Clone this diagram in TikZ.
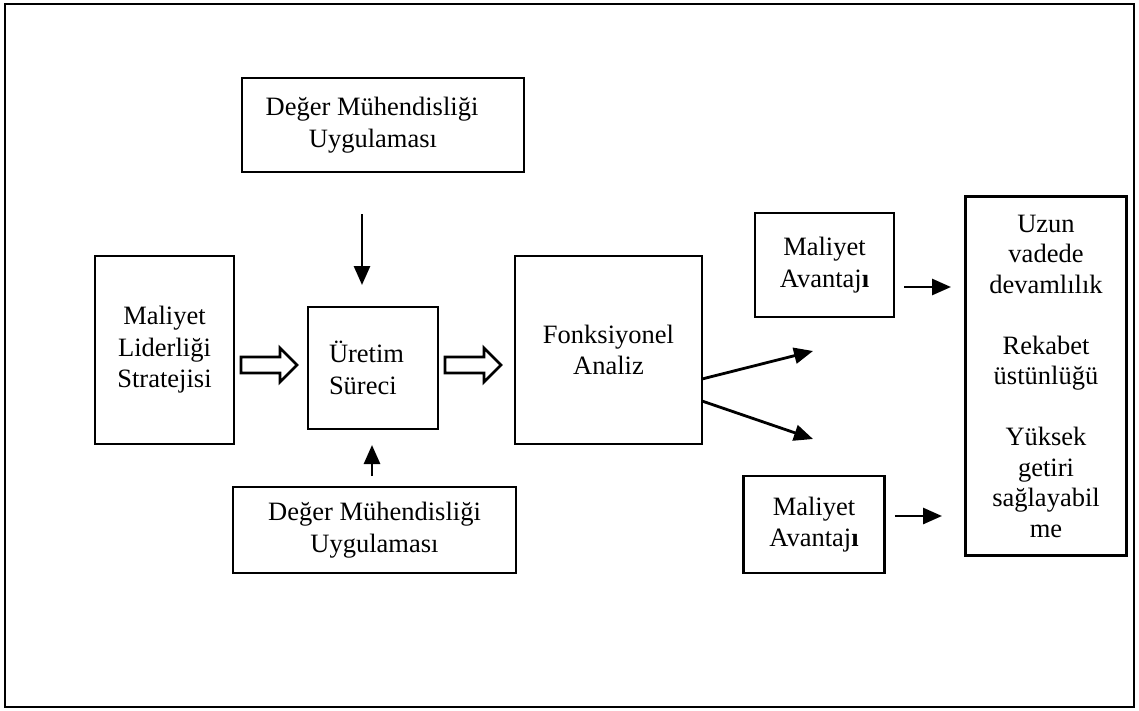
\documentclass[tikz,border=0pt]{standalone}
\usepackage{fontspec}
\setmainfont{Liberation Serif}
\usetikzlibrary{arrows.meta,calc}
\begin{document}
\begin{tikzpicture}[x=1pt,y=-1pt,
  box/.style={draw,line width=2.8pt,outer sep=0pt,inner sep=0pt,align=center,
              font=\fontsize{26.5}{31.5}\selectfont},
  arr/.style={line width=2.8pt,-{Triangle[length=19pt,width=16pt]}},
  hollow/.style={draw,line width=2.8pt,line join=miter,fill=white}]
\useasboundingbox (0,0) rectangle (1139,710);
% outer frame
\draw[line width=2.8pt] (5,4) rectangle (1134,707);

% boxes
\node[box,minimum width=282pt,minimum height=94pt] (dmuTop) at (383,125)
  {\hspace*{-22pt}Değer Mühendisliği\\\hspace*{-20pt}Uygulaması};
\node[box,minimum width=139pt,minimum height=188pt] (lead) at (164.5,350)
  {Maliyet\\Liderliği\\Stratejisi};
\node[box,minimum width=130pt,minimum height=122pt,text width=88pt,align=left] (proc) at (373,368)
  {Üretim\\Süreci};
\node[box,minimum width=187pt,minimum height=188pt] (func) at (608.5,350)
  {Fonksiyonel\\Analiz};
\node[box,minimum width=283pt,minimum height=86pt] (dmuBot) at (374.5,530)
  {Değer Mühendisliği\\Uygulaması};
\node[box,minimum width=139pt,minimum height=104pt] (advTop) at (824.5,265)
  {Maliyet\\Avantaj\textbf{ı}};
\node[box,minimum width=140.5pt,minimum height=97pt] (advBot) at (814,524.5)
  {Maliyet\\Avantaj\textbf{ı}};
\node[box,minimum width=161pt,minimum height=359pt,font=\fontsize{26.5}{30.5}\selectfont] (res) at (1046,376)
  {Uzun\\vadede\\devamlılık\\[30.5pt]Rekabet\\üstünlüğü\\[30.5pt]Yüksek\\getiri\\sağlayabil\\me};

% hollow block arrows
\draw[hollow] ($(lead.east)+(7,7)$) -- ++(39,0) -- ++(0,-9) -- ++(17,17)
  -- ++(-17,17) -- ++(0,-9) -- ++(-39,0) -- cycle;
\draw[hollow] ($(proc.east)+(7,-11)$) -- ++(39,0) -- ++(0,-9) -- ++(17,17)
  -- ++(-17,17) -- ++(0,-9) -- ++(-39,0) -- cycle;

% solid arrows
\draw[arr] ($(dmuTop.south)+(-21,42)$) -- ($(proc.north)+(-11,-22)$);
\draw[arr] ($(dmuBot.north)+(-2.5,-11)$) -- ($(proc.south)+(-1,16)$);
\draw[arr] ($(func.east)+(0,29)$) -- ($(func.east)+(111,1)$);
\draw[arr] ($(func.east)+(0,51)$) -- ($(func.east)+(111,89)$);
\draw[arr] ($(advTop.east)+(10,22)$) -- ($(res.west)+(-14.5,-89)$);
\draw[arr] ($(advBot.east)+(10.5,-8.5)$) -- ($(res.west)+(-23.5,140)$);
\end{tikzpicture}
\end{document}
